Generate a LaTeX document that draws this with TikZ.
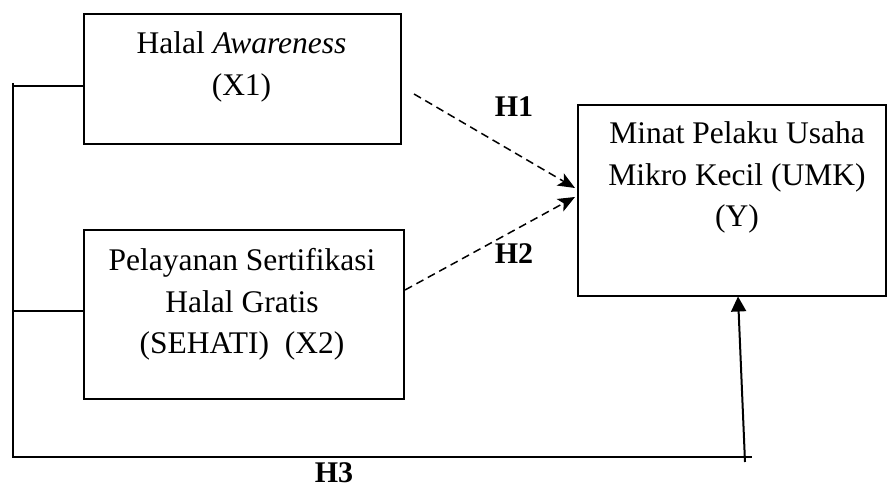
\documentclass[tikz,border=0pt]{standalone}
\usepackage{fontspec}
\setmainfont{Liberation Serif}
\usetikzlibrary{arrows.meta}
\tikzset{
  box/.style={draw, line width=2.4pt, inner sep=0pt, anchor=north west},
  boxtext/.style={anchor=north, inner sep=0pt, align=center, font=\fontsize{31.5}{41.5}\selectfont},
  hlabel/.style={anchor=base, inner sep=0pt, font=\fontsize{30}{36}\selectfont\bfseries},
  bracket/.style={line width=1.5pt},
  dasharrow/.style={line width=1.5pt, dash pattern=on 8pt off 5pt, -{Stealth[length=17pt,width=14pt,inset=4pt]}},
  solidarrow/.style={line width=2pt, -{Triangle[length=15pt,width=15pt]}}
}
\begin{document}
\begin{tikzpicture}[x=1pt,y=-1pt]
\useasboundingbox (0,0) rectangle (888,489);
% boxes
\node[box, minimum width=317pt, minimum height=130pt] (x1) at (83,13) {};
\node[box, minimum width=320pt, minimum height=169pt] (x2) at (83,229) {};
\node[box, minimum width=308pt, minimum height=191pt] (y) at (577,104) {};
% texts
\node[boxtext] (t1) at (241.5,31.5) {Halal \textit{Awareness}\\(X1)};
\node[boxtext] (t2) at (242,248.5) {Pelayanan Sertifikasi\\Halal Gratis\\(SEHATI)\ \ (X2)};
\node[boxtext] (t3) at (737,121.5) {Minat Pelaku Usaha\\Mikro Kecil (UMK)\\(Y)};
% hypothesis labels
\node[hlabel] (h1) at (514,117) {H1};
\node[hlabel] (h2) at (514,263) {H2};
\node[hlabel] (h3) at (334,482) {H3};
% bracket coordinates
\coordinate (btop) at (13,83);
\coordinate (b1) at (13,86);
\coordinate (b2) at (13,311);
\coordinate (b3) at (13,457);
\coordinate (bend) at (752,457);
\coordinate (atail) at (745,462);
\coordinate (ytip) at (738,296.5);
\draw[bracket] (btop) -- (b3) -- (bend);
\draw[bracket] (b1) -- (b1 -| x1.west);
\draw[bracket] (b2) -- (b2 -| x2.west);
\draw[solidarrow] (atail) -- (ytip);
% dashed arrows
\coordinate (d1s) at (414,94);
\coordinate (d1e) at (575,188);
\coordinate (d2s) at (405,290);
\coordinate (d2e) at (575,197);
\draw[dasharrow] (d1s) -- (d1e);
\draw[dasharrow] (d2s) -- (d2e);
\end{tikzpicture}
\end{document}
